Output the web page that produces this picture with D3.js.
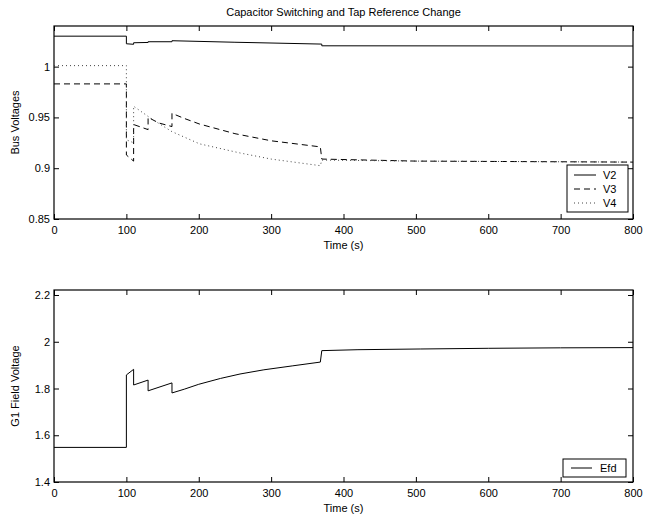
<!DOCTYPE html>
<html>
<head>
<meta charset="utf-8">
<script src="https://cdn.jsdelivr.net/npm/d3@7"></script>
<style>
  body { margin: 0; background: #fff; }
  svg text { font-family: "Liberation Sans", Arial, sans-serif; }
</style>
</head>
<body>
<div id="chart"></div>
<script>
// values: [time (s), value]
const v2 = [[0,1.030],[100,1.030],[100,1.0225],[110,1.022],[110,1.0235],[130,1.0238],[130,1.0245],
  [163,1.0245],[163,1.0255],[250,1.024],[370,1.0222],[370,1.0205],[800,1.0203]];
const v3 = [[0,0.983],[100,0.983],[100,0.913],[110,0.907],[110,0.943],[130,0.938],[130,0.950],
  [145,0.9445],[163,0.941],[163,0.954],[180,0.949],[201,0.9435],[250,0.934],[300,0.927],[368,0.921],
  [370,0.909],[500,0.907],[800,0.906]];
const v4 = [[0,1.001],[100,1.001],[100,0.928],[110,0.925],[110,0.961],[130,0.951],[145,0.944],
  [163,0.936],[201,0.924],[257,0.915],[300,0.909],[368,0.9025],[370,0.908],[500,0.907],[800,0.906]];
const efd = [[0,1.548],[100,1.548],[100,1.858],[110,1.882],[110,1.815],[130,1.836],[130,1.79],
  [163,1.824],[163,1.781],[180,1.797],[200,1.818],[230,1.843],[257,1.862],[290,1.880],[330,1.897],
  [368,1.913],[370,1.962],[420,1.966],[506,1.969],[600,1.972],[700,1.974],[800,1.975]];

const xTicks = [0,100,200,300,400,500,600,700,800];
const yTicksTop = [0.85,0.9,0.95,1];
const yTicksBottom = [1.4,1.6,1.8,2,2.2];

const width = 645, height = 521;
const svg = d3.select("#chart").append("svg")
  .attr("width", width).attr("height", height);

const left = 54, right = 633;
const x = d3.scaleLinear().domain([0, 800]).range([left, right]);

// draws one matlab style axes box with ticks on all sides
function panel(top, bottom, yDomain, yTicks, yLabel) {
  const y = d3.scaleLinear().domain(yDomain).range([bottom, top]);
  const g = svg.append("g");

  g.append("g").attr("transform", `translate(0,${bottom})`)
    .call(d3.axisBottom(x).tickValues(xTicks).tickSize(-5).tickPadding(7));
  g.append("g").attr("transform", `translate(0,${top})`)
    .call(d3.axisTop(x).tickValues(xTicks).tickSize(-5).tickFormat(""));
  g.append("g").attr("transform", `translate(${left},0)`)
    .call(d3.axisLeft(y).tickValues(yTicks).tickSize(-5).tickPadding(4).tickFormat(d => String(d)));
  g.append("g").attr("transform", `translate(${right},0)`)
    .call(d3.axisRight(y).tickValues(yTicks).tickSize(-5).tickFormat(""));

  g.selectAll(".domain").remove();
  g.selectAll(".tick line").attr("stroke", "#000");
  g.selectAll(".tick text").attr("font-size", 11).attr("fill", "#000");

  g.append("rect")
    .attr("x", left).attr("y", top)
    .attr("width", right - left).attr("height", bottom - top)
    .attr("fill", "none").attr("stroke", "#000").attr("stroke-width", 1.2);

  g.append("text")
    .attr("x", (left + right) / 2).attr("y", bottom + 30)
    .attr("text-anchor", "middle").attr("font-size", 11)
    .text("Time (s)");

  g.append("text")
    .attr("transform", `translate(19,${(top + bottom) / 2}) rotate(-90)`)
    .attr("text-anchor", "middle").attr("font-size", 11)
    .text(yLabel);

  return { g, y };
}

const topPanel = panel(26, 219, [0.85, 1.04], yTicksTop, "Bus Voltages");
const botPanel = panel(290, 482, [1.4, 2.2214], yTicksBottom, "G1 Field Voltage");

svg.append("text")
  .attr("x", (left + right) / 2).attr("y", 16)
  .attr("text-anchor", "middle").attr("font-size", 11)
  .text("Capacitor Switching and Tap Reference Change");

const series = [
  { name: "V2", data: v2, dash: null, color: "#000" },
  { name: "V3", data: v3, dash: "6,4", color: "#000" },
  { name: "V4", data: v4, dash: "1,3", color: "#444" }
];

const lineTop = d3.line().x(d => x(d[0])).y(d => topPanel.y(d[1]));
topPanel.g.selectAll("path.series")
  .data(series)
  .join("path")
  .attr("class", "series")
  .attr("d", d => lineTop(d.data))
  .attr("fill", "none")
  .attr("stroke", d => d.color)
  .attr("stroke-width", 1)
  .attr("stroke-dasharray", d => d.dash);

const lineBot = d3.line().x(d => x(d[0])).y(d => botPanel.y(d[1]));
botPanel.g.append("path")
  .attr("d", lineBot(efd))
  .attr("fill", "none").attr("stroke", "#000").attr("stroke-width", 1);

// legends
const legTop = topPanel.g.append("g").attr("transform", "translate(567,165)");
legTop.append("rect").attr("width", 61).attr("height", 47)
  .attr("fill", "#fff").attr("stroke", "#000").attr("stroke-width", 1);
series.forEach((s, i) => {
  const yy = 10 + i * 14;
  legTop.append("line").attr("x1", 7).attr("x2", 29).attr("y1", yy).attr("y2", yy)
    .attr("stroke", s.color).attr("stroke-width", 1).attr("stroke-dasharray", s.dash);
  legTop.append("text").attr("x", 36).attr("y", yy + 4).attr("font-size", 11).text(s.name);
});

const legBot = botPanel.g.append("g").attr("transform", "translate(563,459)");
legBot.append("rect").attr("width", 63).attr("height", 18)
  .attr("fill", "#fff").attr("stroke", "#000").attr("stroke-width", 1);
legBot.append("line").attr("x1", 8).attr("x2", 29).attr("y1", 9).attr("y2", 9)
  .attr("stroke", "#000").attr("stroke-width", 1);
legBot.append("text").attr("x", 37).attr("y", 13).attr("font-size", 11).text("Efd");
</script>
</body>
</html>
